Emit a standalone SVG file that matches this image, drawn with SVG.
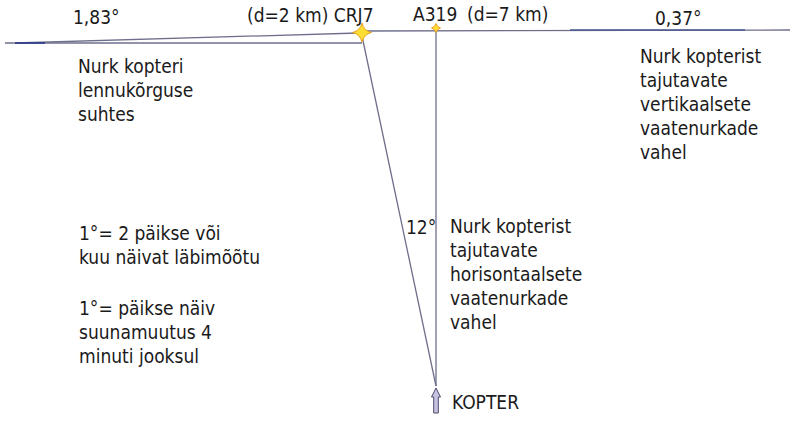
<svg xmlns="http://www.w3.org/2000/svg" width="800" height="427" viewBox="0 0 800 427">
<style>
text{font-family:"DejaVu Sans Condensed","DejaVu Sans",sans-serif;font-stretch:condensed;font-size:19px;fill:#1a1a1a}
.ln{stroke:#6e6e8c;stroke-width:1.3;fill:none}
.dk{stroke:#2c3c8c;stroke-width:1.6;fill:none}
.star{fill:#ffdd33;stroke:#e8a020;stroke-width:1}
</style>
<rect width="800" height="427" fill="#fff"/>
<g id="connectors">
<line class="ln" x1="5" y1="43" x2="362" y2="43"/>
<line class="ln" x1="15" y1="43" x2="358" y2="33"/>
<line class="ln" x1="362" y1="31" x2="790" y2="30"/>
<line class="ln" x1="362" y1="36" x2="436" y2="386"/>
<line class="ln" x1="436" y1="31" x2="436" y2="386"/>
<line class="dk" x1="15" y1="43" x2="45" y2="43"/>
<line class="ln" x1="570" y1="30" x2="745" y2="30" style="stroke:#4a5a90"/>
</g>
<g id="crj7">
<path class="star" d="M362 23 Q364 31 371.5 32.5 Q364 34 362 42 Q360 34 352.5 32.5 Q360 31 362 23 Z"/>
<text x="247" y="22">(d=2 km) CRJ7</text>
</g>
<g id="a319">
<path class="star" d="M436 23.5 Q437 27 440.5 28 Q437 29 436 32.5 Q435 29 431.5 28 Q435 27 436 23.5 Z"/>
<text x="413" y="21">A319</text>
<text x="467" y="21">(d=7 km)</text>
</g>
<g id="kopter">
<path d="M436 388 L440.5 397 L438.3 397 L438.3 413 L433.7 413 L433.7 397 L431.5 397 Z" fill="#c8c2e2" stroke="#4a4a6a" stroke-width="1"/>
<text x="452" y="409">KOPTER</text>
</g>
<g id="labels">
<text x="73" y="24">1,83°</text>
<text x="655" y="25">0,37°</text>
<text x="406" y="234">12°</text>
<text x="78"><tspan x="78" y="73">Nurk kopteri</tspan><tspan x="78" y="97">lennukõrguse</tspan><tspan x="78" y="121">suhtes</tspan></text>
<text><tspan x="640" y="63">Nurk kopterist</tspan><tspan x="640" y="87">tajutavate</tspan><tspan x="640" y="111">vertikaalsete</tspan><tspan x="640" y="135">vaatenurkade</tspan><tspan x="640" y="159">vahel</tspan></text>
<text><tspan x="79" y="240">1°= 2 päikse või</tspan><tspan x="79" y="264">kuu näivat läbimõõtu</tspan></text>
<text><tspan x="79" y="315">1°= päikse näiv</tspan><tspan x="79" y="339">suunamuutus 4</tspan><tspan x="79" y="363">minuti jooksul</tspan></text>
<text><tspan x="450" y="233">Nurk kopterist</tspan><tspan x="450" y="257">tajutavate</tspan><tspan x="450" y="281">horisontaalsete</tspan><tspan x="450" y="305">vaatenurkade</tspan><tspan x="450" y="329">vahel</tspan></text>
</g>
</svg>
